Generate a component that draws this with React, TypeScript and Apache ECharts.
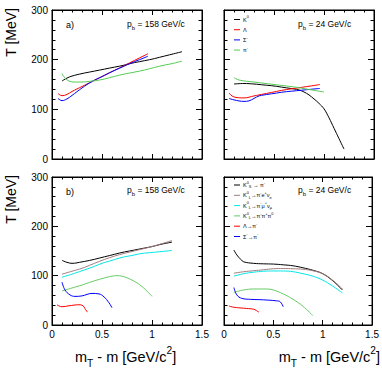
import React, { useEffect, useRef } from "react";
import * as echarts from "echarts";

type Pt = [number, number];

// ---- Panel a) p_b = 158 GeV/c ----
const a158K0: Pt[] = [[0.1, 157], [0.15, 163], [0.2, 167], [0.3, 172], [0.4, 176], [0.5, 180], [0.6, 184], [0.7, 188], [0.8, 193], [0.9, 197], [1.0, 201], [1.1, 206], [1.2, 211], [1.3, 216]];
const a158Lambda: Pt[] = [[0.06, 132], [0.1, 127.5], [0.15, 130], [0.2, 136], [0.3, 146], [0.4, 156], [0.5, 166], [0.6, 176], [0.7, 186], [0.8, 196], [0.9, 206], [0.96, 212]];
const a158Sigma: Pt[] = [[0.06, 122], [0.1, 117.5], [0.15, 121], [0.2, 128], [0.3, 143], [0.4, 156], [0.5, 166], [0.6, 176], [0.7, 185], [0.8, 194], [0.9, 202], [0.96, 207]];
const a158Pi: Pt[] = [[0.1, 172], [0.13, 163], [0.17, 157], [0.22, 155], [0.3, 155], [0.4, 157], [0.5, 160], [0.6, 165], [0.7, 170], [0.8, 174], [0.9, 178], [1.0, 183], [1.1, 188], [1.2, 192], [1.3, 197]];

// ---- Panel a) p_b = 24 GeV/c ----
const a24K0: Pt[] = [[0.1, 151], [0.2, 152], [0.3, 151], [0.4, 149], [0.5, 147], [0.6, 144], [0.7, 141], [0.75, 139], [0.8, 135], [0.85, 129], [0.9, 121], [0.95, 112], [1.0, 101], [1.05, 83], [1.1, 62], [1.15, 41], [1.2, 20]];
const a24Lambda: Pt[] = [[0.05, 133], [0.08, 127], [0.12, 124], [0.2, 123], [0.3, 127], [0.4, 131], [0.5, 135], [0.6, 139], [0.7, 142], [0.8, 145], [0.9, 148], [0.96, 150]];
const a24Sigma: Pt[] = [[0.05, 122], [0.1, 119], [0.2, 116], [0.25, 117], [0.3, 122], [0.35, 127], [0.4, 129], [0.5, 132], [0.6, 135], [0.7, 137], [0.8, 139], [0.9, 141], [0.96, 142]];
const a24Pi: Pt[] = [[0.1, 164], [0.15, 159], [0.3, 155], [0.5, 150], [0.7, 145], [0.85, 140], [1.0, 135]];

// ---- Panel b) p_b = 158 GeV/c ----
const b158Ks: Pt[] = [[0.1, 131], [0.15, 127], [0.2, 125], [0.3, 128], [0.4, 132], [0.5, 137], [0.6, 142], [0.7, 147], [0.8, 151], [0.9, 155], [1.0, 159], [1.1, 164], [1.2, 168]];
const b158Ke: Pt[] = [[0.1, 103], [0.2, 109], [0.3, 115], [0.4, 123], [0.5, 131], [0.6, 138], [0.7, 144], [0.8, 149], [0.9, 154], [1.0, 159], [1.1, 165], [1.2, 171]];
const b158Kmu: Pt[] = [[0.1, 97], [0.2, 103], [0.3, 110], [0.4, 117], [0.5, 125], [0.6, 131], [0.7, 137], [0.8, 141], [0.9, 145], [1.0, 147], [1.1, 149], [1.2, 151]];
const b158K3pi: Pt[] = [[0.1, 69], [0.2, 75], [0.3, 81], [0.4, 88], [0.5, 94], [0.6, 99], [0.65, 100], [0.7, 99], [0.8, 91], [0.9, 78], [1.0, 58]];
const b158Lambda: Pt[] = [[0.05, 41], [0.1, 37], [0.17, 39], [0.27, 41], [0.31, 39], [0.33, 33], [0.355, 26]];
const b158Sigma: Pt[] = [[0.1, 87], [0.13, 71], [0.18, 61], [0.23, 58], [0.3, 59], [0.4, 64], [0.47, 63], [0.52, 57], [0.57, 45], [0.6, 35]];

// ---- Panel b) p_b = 24 GeV/c ----
const b24Ks: Pt[] = [[0.1, 152], [0.13, 142], [0.17, 133], [0.2, 128], [0.3, 125], [0.4, 124], [0.5, 123.5], [0.6, 122], [0.7, 120], [0.8, 116], [0.9, 111], [1.0, 104], [1.1, 90], [1.2, 71]];
const b24Ke: Pt[] = [[0.1, 105], [0.2, 108], [0.3, 110], [0.4, 112], [0.5, 114], [0.6, 114.5], [0.7, 114], [0.8, 113], [0.9, 110], [1.0, 104], [1.1, 91], [1.2, 73]];
const b24Kmu: Pt[] = [[0.1, 99], [0.2, 104], [0.3, 107], [0.4, 109], [0.5, 109.5], [0.6, 109.5], [0.7, 108], [0.8, 104], [0.9, 99], [1.0, 91], [1.1, 79], [1.2, 65]];
const b24K3pi: Pt[] = [[0.1, 66], [0.2, 71], [0.3, 73], [0.43, 73], [0.5, 71], [0.6, 63], [0.7, 52], [0.8, 38], [0.9, 19]];
const b24Lambda: Pt[] = [[0.05, 38.5], [0.1, 36], [0.2, 34], [0.3, 32], [0.33, 29], [0.355, 26]];
const b24Sigma: Pt[] = [[0.1, 76], [0.13, 61], [0.18, 54], [0.27, 52], [0.4, 51], [0.53, 49], [0.57, 47], [0.6, 37]];

// ---- Labels ----
const topLegendLabels = ["K{sup|0}", "Λ", "Σ{sup|-}", "π{sup|-}"];
const bottomLegendLabels = [
  "K{sup|0}{sub|S} → π{sup|-}",
  "K{sup|0}{sub|L}→π{sup|-}e{sup|+}ν{sub|e}",
  "K{sup|0}{sub|L}→π{sup|-}μ{sup|+}ν{sub|μ}",
  "K{sup|0}{sub|L}→π{sup|-}π{sup|+}π{sup|0}",
  "Λ→π{sup|-}",
  "Σ{sup|-}→π{sup|-}",
];
const panelTags = ["a)", "b)"];
const beamLabels = ["p{sub|b} = 158 GeV/c", "p{sub|b} = 24 GeV/c"];
const yTitle = "T [MeV]";
const xTitle = "m{sub|T} - m [GeV/c{sup|2}]";

const topColors = ["#000000", "#ff0000", "#0000ff", "#55cc55"];
const bottomColors = ["#000000", "#a07e7e", "#00e8e8", "#66cc66", "#ff0000", "#0000ff"];

const FONT = "'Liberation Sans', Arial, Helvetica, sans-serif";

export default function App() {
  const ref = useRef<HTMLDivElement>(null);
  useEffect(() => {
    if (!ref.current) return;
    const chart = echarts.init(ref.current, undefined, { renderer: "svg" });

    const grids = [
      { left: 52, top: 10, width: 150, height: 149 },
      { left: 224, top: 10, width: 150, height: 149 },
      { left: 52, top: 177, width: 150, height: 148 },
      { left: 224, top: 177, width: 150, height: 148 },
    ].map((g) => ({ ...g, show: true, borderColor: "#000", borderWidth: 1, backgroundColor: "transparent" }));

    const lineStyle = { color: "#000", width: 1 };
    const xAxes: any[] = [];
    const yAxes: any[] = [];
    for (let m = 0; m < 2; m++) {
      for (let i = 0; i < 4; i++) {
        const mirror = m === 1;
        xAxes.push({
          gridIndex: i,
          type: "value",
          min: 0,
          max: 1.5,
          interval: 0.5,
          position: mirror ? "top" : "bottom",
          axisLine: { show: true, onZero: false, lineStyle },
          axisTick: { show: true, inside: true, length: 5, lineStyle },
          minorTick: { show: true, splitNumber: 5, length: 2.5, lineStyle },
          splitLine: { show: false },
          axisLabel: {
            show: !mirror && i >= 2,
            fontSize: 10,
            color: "#000",
            fontFamily: FONT,
            margin: 4,
            formatter: (v: number) => String(v),
          },
        });
        yAxes.push({
          gridIndex: i,
          type: "value",
          min: 0,
          max: 300,
          interval: 100,
          position: mirror ? "right" : "left",
          axisLine: { show: true, onZero: false, lineStyle },
          axisTick: { show: true, inside: true, length: 6, lineStyle },
          minorTick: { show: true, splitNumber: 5, length: 3.5, lineStyle },
          splitLine: { show: false },
          axisLabel: {
            show: !mirror && i % 2 === 0,
            fontSize: 10,
            color: "#000",
            fontFamily: FONT,
            margin: 4,
          },
        });
      }
    }

    const panels: Pt[][][] = [
      [a158K0, a158Lambda, a158Sigma, a158Pi],
      [a24K0, a24Lambda, a24Sigma, a24Pi],
      [b158Ks, b158Ke, b158Kmu, b158K3pi, b158Lambda, b158Sigma],
      [b24Ks, b24Ke, b24Kmu, b24K3pi, b24Lambda, b24Sigma],
    ];
    const series: any[] = [];
    panels.forEach((list, pi) => {
      const colors = pi < 2 ? topColors : bottomColors;
      list.forEach((data, si) => {
        series.push({
          type: "line",
          xAxisIndex: pi,
          yAxisIndex: pi,
          data,
          smooth: 0.4,
          showSymbol: false,
          symbol: "none",
          lineStyle: { color: colors[si], width: 1 },
          itemStyle: { color: colors[si] },
          silent: true,
          z: 1,
        });
      });
    });

    const richSmall = (base: number) => ({
      n: { fontSize: base, fontFamily: FONT, fill: "#000", lineHeight: base * 1.6, verticalAlign: "middle" },
      sup: { fontSize: base * 0.7, fontFamily: FONT, fill: "#000", lineHeight: base * 0.7, verticalAlign: "top" },
      sub: { fontSize: base * 0.7, fontFamily: FONT, fill: "#000", lineHeight: base * 0.7, verticalAlign: "bottom" },
    });
    const wrapRich = (s: string) =>
      s
        .split(/(\{(?:sup|sub)\|[^}]*\})/)
        .filter((p) => p.length > 0)
        .map((p) => (p.startsWith("{") ? p : `{n|${p}}`))
        .join("");

    const graphic: any[] = [];
    // y titles
    [8, 175].forEach((y) => {
      graphic.push({
        type: "text",
        x: 11,
        y,
        rotation: Math.PI / 2,
        style: { text: yTitle, fontSize: 14, fontFamily: FONT, fill: "#000", align: "right", verticalAlign: "middle" },
      });
    });
    // x titles
    graphic.push({
      type: "text",
      x: 75,
      y: 357,
      style: { text: wrapRich(xTitle), rich: richSmall(14.5), align: "left", verticalAlign: "middle" },
    });
    graphic.push({
      type: "text",
      x: 380,
      y: 357,
      style: { text: wrapRich(xTitle), rich: richSmall(14.5), align: "right", verticalAlign: "middle" },
    });
    // panel tags
    [[70, 25], [70, 192]].forEach(([x, y], k) => {
      graphic.push({
        type: "text",
        x,
        y,
        style: { text: panelTags[k], fontSize: 9, fontFamily: FONT, fill: "#000", align: "center", verticalAlign: "middle" },
      });
    });
    // beam labels
    [[127, 24, 0], [298, 24, 1], [127, 190, 0], [298, 190, 1]].forEach(([x, y, k]) => {
      graphic.push({
        type: "text",
        x,
        y,
        style: { text: wrapRich(beamLabels[k]), rich: richSmall(8.5), align: "left", verticalAlign: "middle" },
      });
    });
    // legends
    const addLegend = (labels: string[], colors: string[], y0: number, step: number) => {
      labels.forEach((lab, k) => {
        const y = y0 + k * step;
        graphic.push({
          type: "line",
          shape: { x1: 234, y1: y, x2: 240, y2: y },
          style: { stroke: colors[k], lineWidth: 1 },
        });
        graphic.push({
          type: "text",
          x: 243,
          y,
          style: { text: wrapRich(lab), rich: richSmall(5.5), align: "left", verticalAlign: "middle" },
        });
      });
    };
    addLegend(topLegendLabels, topColors, 19.5, 10.2);
    addLegend(bottomLegendLabels, bottomColors, 185, 10.3);

    chart.setOption({
      animation: false,
      backgroundColor: "#fff",
      grid: grids,
      xAxis: xAxes,
      yAxis: yAxes,
      series,
      graphic,
    });
    return () => chart.dispose();
  }, []);
  return <div ref={ref} style={{ position: "absolute", left: 0, top: 0, width: 382, height: 369 }} />;
}
